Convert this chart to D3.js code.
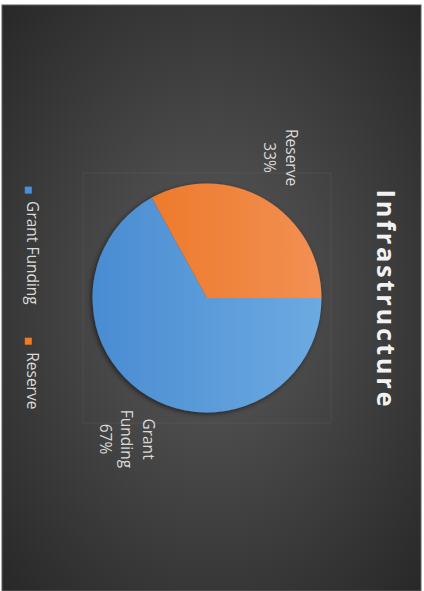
<!DOCTYPE html>
<html>
<head>
<meta charset="utf-8">
<script src="https://cdn.jsdelivr.net/npm/d3@7/dist/d3.min.js"></script>
<style>
  html, body { margin: 0; padding: 0; background: #ffffff; }
  svg { display: block; }
  text { font-family: "Open Sans", "Noto Sans", sans-serif; }
</style>
</head>
<body>
<script>
// Chart content
const chartTitle = "Infrastructure";
const categories = ["Grant Funding", "Reserve"];
const values = [67, 33];
const sliceColors = [
  { dark: "#4a8cd2", light: "#6caae1", swatch: "#4a90d9" },
  { dark: "#ec731d", light: "#f29054", swatch: "#f07b22" }
];

// Page and chart frame (the chart is laid out landscape and turned a quarter turn clockwise)
const pageW = 424, pageH = 591;
const W = 586, H = 419;

const svg = d3.select("body").append("svg")
  .attr("width", pageW)
  .attr("height", pageH);

const defs = svg.append("defs");

const bg = defs.append("radialGradient")
  .attr("id", "bgGrad")
  .attr("cx", "50%").attr("cy", "50%").attr("r", "72%");
bg.append("stop").attr("offset", "0%").attr("stop-color", "#5b5b5b");
bg.append("stop").attr("offset", "100%").attr("stop-color", "#272727");

const shadow = defs.append("filter")
  .attr("id", "pieShadow")
  .attr("x", "-20%").attr("y", "-20%").attr("width", "140%").attr("height", "140%");
shadow.append("feDropShadow")
  .attr("dx", 1.5).attr("dy", 1.5)
  .attr("stdDeviation", 2.5)
  .attr("flood-color", "#000")
  .attr("flood-opacity", 0.55);

const chart = svg.append("g")
  .attr("transform", `translate(${2 + H},5) rotate(90)`);

chart.append("rect")
  .attr("width", W).attr("height", H)
  .attr("fill", "url(#bgGrad)")
  .attr("stroke", "#5e5e5e")
  .attr("stroke-width", 1);

// Plot area
const cx = 293, cy = 214, r = 114.5;
const plotSize = 250;
chart.append("rect")
  .attr("x", cx - plotSize / 2).attr("y", cy - plotSize / 2 + 1)
  .attr("width", plotSize).attr("height", plotSize - 2)
  .attr("fill", "none")
  .attr("stroke", "rgba(255,255,255,0.06)")
  .attr("stroke-width", 1);

// Title
chart.append("text")
  .attr("x", W / 2)
  .attr("y", 44.5)
  .attr("text-anchor", "middle")
  .attr("font-size", 25.5)
  .attr("font-weight", 700)
  .attr("fill", "#f2f2f2")
  .attr("textLength", 217)
  .attr("lengthAdjust", "spacing")
  .text(chartTitle);

// Slice gradients: lighter towards the top of the pie
sliceColors.forEach((c, i) => {
  const lg = defs.append("linearGradient")
    .attr("id", "slice" + i)
    .attr("gradientUnits", "userSpaceOnUse")
    .attr("x1", 0).attr("y1", -r).attr("x2", 0).attr("y2", r);
  lg.append("stop").attr("offset", "0%").attr("stop-color", c.light);
  lg.append("stop").attr("offset", "100%").attr("stop-color", c.dark);
});

const pie = d3.pie().sort(null).value(d => d);
const arcs = pie(values);
const arc = d3.arc().innerRadius(0).outerRadius(r);

const pieG = chart.append("g").attr("transform", `translate(${cx},${cy})`);
pieG.append("g")
  .attr("filter", "url(#pieShadow)")
  .selectAll("path")
  .data(arcs)
  .join("path")
  .attr("d", arc)
  .attr("fill", (d, i) => `url(#slice${i})`);

// Data labels, placed outside each slice along its mid-angle
const total = d3.sum(values);
const labelFont = 15.5, lineH = 21.5, capH = 0.714 * labelFont, descent = 4;
const anchorR = r * 1.135, edgeInset = 13;

arcs.forEach((a, i) => {
  const mid = (a.startAngle + a.endAngle) / 2;
  const dx = Math.sin(mid), dy = -Math.cos(mid);
  const ax = dx * anchorR, ay = dy * anchorR;
  const lines = categories[i].split(" ").concat([Math.round(a.value / total * 100) + "%"]);

  const t = pieG.append("text")
    .attr("text-anchor", "middle")
    .attr("font-size", labelFont)
    .attr("fill", "#d9d9d9");
  const spans = lines.map(s => t.append("tspan").text(s));
  const boxW = d3.max(spans, s => s.node().getComputedTextLength());

  const x = ax + Math.sign(dx) * boxW / 2;
  let firstBase;
  if (dy > 0) {
    firstBase = ay - edgeInset + capH;
  } else {
    firstBase = ay + edgeInset - descent - (lines.length - 1) * lineH;
  }
  spans.forEach((s, k) => s.attr("x", x).attr("y", firstBase + k * lineH));
});

// Legend along the bottom
const sq = 7, sqGap = 7.5, itemGap = 33;
const legend = chart.append("g");
const items = categories.map((c, i) => {
  const g = legend.append("g");
  g.append("rect")
    .attr("width", sq).attr("height", sq)
    .attr("y", 392.7 - sq / 2)
    .attr("fill", sliceColors[i].swatch);
  const tx = g.append("text")
    .attr("x", sq + sqGap)
    .attr("y", 394.3)
    .attr("font-size", labelFont)
    .attr("fill", "#d9d9d9")
    .text(c);
  return { g, w: sq + sqGap + tx.node().getComputedTextLength() };
});
const legendW = d3.sum(items, d => d.w) + itemGap * (items.length - 1);
let lx = W / 2 - legendW / 2;
items.forEach(it => {
  it.g.attr("transform", `translate(${lx},0)`);
  lx += it.w + itemGap;
});
</script>
</body>
</html>
